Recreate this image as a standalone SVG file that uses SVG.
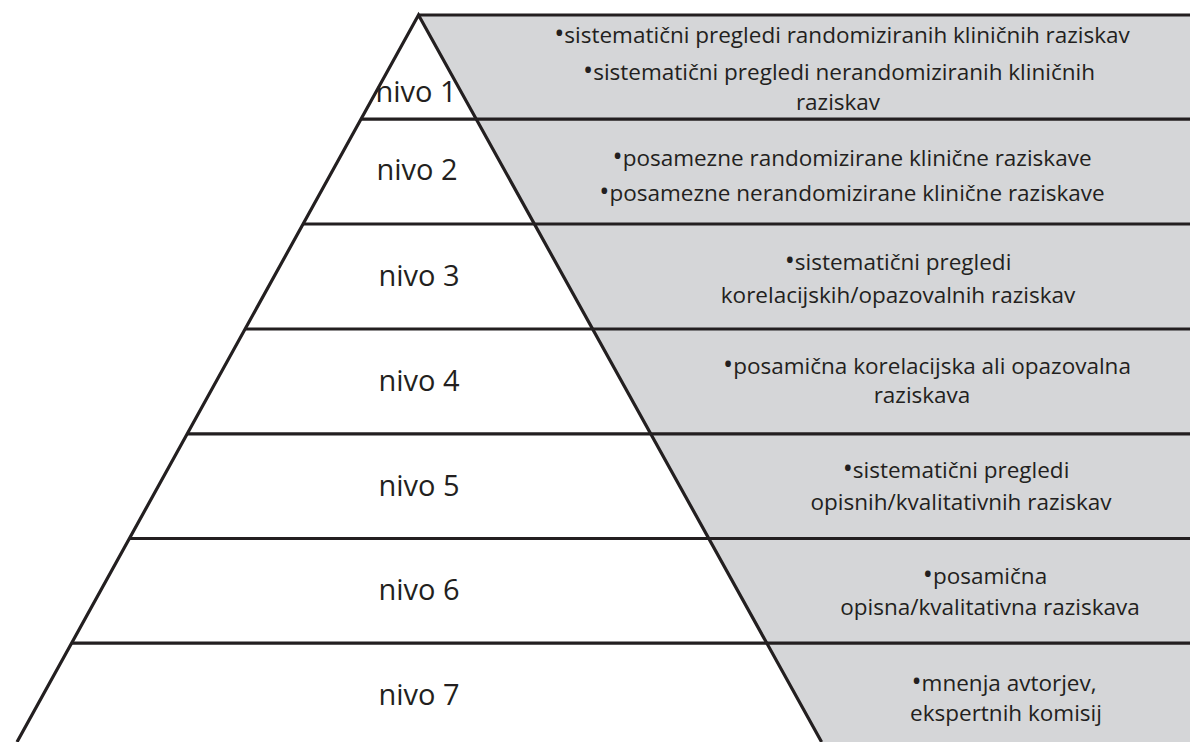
<svg xmlns="http://www.w3.org/2000/svg" width="1194" height="742" viewBox="0 0 1194 742">
<style>
.ln{stroke:#231f20;stroke-width:3.2;fill:none;stroke-linecap:butt}
.lv{font-family:"Open Sans","Liberation Sans",sans-serif;font-size:29px;fill:#231f20;text-anchor:middle}
.tx{font-family:"Open Sans","Liberation Sans",sans-serif;font-size:22.5px;fill:#231f20;text-anchor:middle}
.b{font-size:27px}
</style>
<rect width="1194" height="742" fill="#ffffff"/>
<polygon id="grey" points="418.5,15 1190,15 1190,742 821.6,742" fill="#d5d6d8"/>
<g id="lines">
<polyline class="ln" points="17,742 418.5,15 821.6,742"/>
<line class="ln" x1="418.5" y1="15" x2="1190" y2="15"/>
<line class="ln" x1="361" y1="119.2" x2="1190" y2="119.2"/>
<line class="ln" x1="303" y1="224" x2="1190" y2="224"/>
<line class="ln" x1="245" y1="329" x2="1190" y2="329"/>
<line class="ln" x1="187.5" y1="433.8" x2="1190" y2="433.8"/>
<line class="ln" x1="130" y1="538.5" x2="1190" y2="538.5"/>
<line class="ln" x1="71.7" y1="643.2" x2="1190" y2="643.2"/>
</g>
<g id="nivo1">
<text class="lv" x="416" y="102">nivo 1</text>
<text class="tx" x="842" y="43"><tspan class="b">•</tspan>sistematični pregledi randomiziranih kliničnih raziskav</text>
<text class="tx" x="839" y="80"><tspan class="b">•</tspan>sistematični pregledi nerandomiziranih kliničnih</text>
<text class="tx" x="838" y="110">raziskav</text>
</g>
<g id="nivo2">
<text class="lv" x="417" y="180">nivo 2</text>
<text class="tx" x="852" y="166"><tspan class="b">•</tspan>posamezne randomizirane klinične raziskave</text>
<text class="tx" x="852" y="201"><tspan class="b">•</tspan>posamezne nerandomizirane klinične raziskave</text>
</g>
<g id="nivo3">
<text class="lv" x="419" y="286">nivo 3</text>
<text class="tx" x="898" y="270"><tspan class="b">•</tspan>sistematični pregledi</text>
<text class="tx" x="898" y="303">korelacijskih/opazovalnih raziskav</text>
</g>
<g id="nivo4">
<text class="lv" x="419" y="391">nivo 4</text>
<text class="tx" x="927" y="374"><tspan class="b">•</tspan>posamična korelacijska ali opazovalna</text>
<text class="tx" x="922" y="403">raziskava</text>
</g>
<g id="nivo5">
<text class="lv" x="419" y="496">nivo 5</text>
<text class="tx" x="956" y="478"><tspan class="b">•</tspan>sistematični pregledi</text>
<text class="tx" x="961" y="510">opisnih/kvalitativnih raziskav</text>
</g>
<g id="nivo6">
<text class="lv" x="419" y="600">nivo 6</text>
<text class="tx" x="985" y="584"><tspan class="b">•</tspan>posamična</text>
<text class="tx" x="990" y="615">opisna/kvalitativna raziskava</text>
</g>
<g id="nivo7">
<text class="lv" x="419" y="705">nivo 7</text>
<text class="tx" x="1004" y="691"><tspan class="b">•</tspan>mnenja avtorjev,</text>
<text class="tx" x="1006" y="721">ekspertnih komisij</text>
</g>
</svg>
